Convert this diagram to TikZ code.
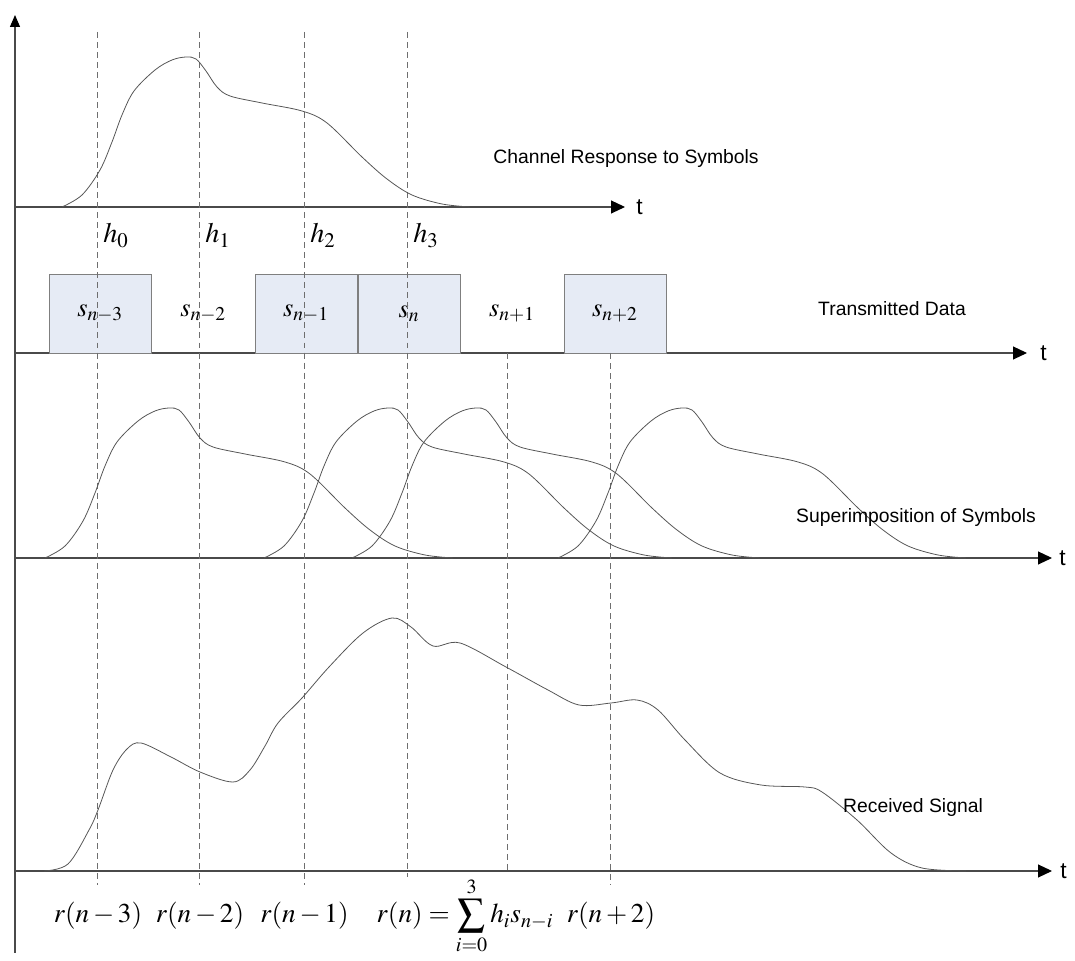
\documentclass[tikz,border=0pt]{standalone}
\usepackage{mathptmx}
\usepackage[no-math]{fontspec}
\setsansfont{Liberation Sans}
\usetikzlibrary{arrows.meta,positioning}
\definecolor{SymFill}{HTML}{E6EBF5}
\definecolor{SymEdge}{HTML}{7F7F7F}
\definecolor{Trace}{HTML}{555555}
\definecolor{Axis}{HTML}{4A4A4A}
\definecolor{Guide}{HTML}{6E6E6E}
\tikzset{
  axis/.style={draw=Axis,line width=0.6pt,-{Triangle[length=2.8mm,width=2.6mm,color=black]}},
  trace/.style={draw=Trace,line width=0.45pt},
  guide/.style={draw=Guide,line width=0.45pt,dash pattern=on 3.4pt off 2.3pt},
  slot/.style={minimum width=20.45mm,minimum height=15.8mm,inner sep=0pt,font=\fontsize{15}{18}\selectfont},
  symbox/.style={slot,draw=SymEdge,fill=SymFill},
  caption/.style={font=\sffamily\fontsize{11}{13}\selectfont,inner sep=0pt},
  tlab/.style={font=\sffamily\fontsize{13}{15}\selectfont,inner sep=0pt,anchor=west},
  hlab/.style={font=\fontsize{16}{19}\selectfont,inner sep=0pt,anchor=base west},
  rlab/.style={font=\fontsize{15.5}{18}\selectfont,inner sep=0pt,anchor=base},
  pulse/.pic={
    \draw[trace] plot[smooth,tension=0.55] coordinates {(0,0) (20,12) (38,37) (50,65) (60,92)
      (72,116) (93,137) (110,147) (124,150) (134,148) (144,136) (155,120) (168,111) (200,104)
      (240,96) (265,84) (300,50) (325,28) (350,12) (380,3) (408,0)};
  }
}

\begin{document}
\begin{tikzpicture}[x=0.2mm,y=0.2mm]
  \useasboundingbox (0,0) rectangle (1075,961);

  % axes
  \coordinate (o) at (15,8);
  \coordinate (ytop) at (15,946);
  \draw[axis,-{Triangle[length=2.4mm,width=2mm,color=black]}] (o) -- (ytop);
  \coordinate (a1) at (15,754);
  \coordinate (e1) at (625,754);
  \coordinate (a2) at (15,608);
  \coordinate (e2) at (1027,608);
  \coordinate (a3) at (15,403);
  \coordinate (e3) at (1052,403);
  \coordinate (a4) at (15,90);
  \coordinate (e4) at (1052,90);
  \draw[axis] (a1) -- (e1);
  \draw[axis] (a2) -- (e2);
  \draw[axis] (a3) -- (e3);
  \draw[axis] (a4) -- (e4);
  \node[tlab] (t1) at (636,754) {t};
  \node[tlab] (t2) at (1040,608) {t};
  \node[tlab] (t3) at (1059,403) {t};
  \node[tlab] (t4) at (1060,90) {t};

  % transmitted symbols
  \node[symbox] (snm3) at (100.2,647.5) {$s_{n-3}$};
  \node[slot,right=0pt of snm3] (snm2) {$s_{n-2}$};
  \node[symbox,right=0pt of snm2] (snm1) {$s_{n-1}$};
  \node[symbox,right=0pt of snm1] (sn) {$s_{n}$};
  \node[slot,right=0pt of sn] (snp1) {$s_{n+1}$};
  \node[symbox,right=0pt of snp1] (snp2) {$s_{n+2}$};

  % sampling instants
  \foreach \x in {97,199,304}
    \draw[guide] (\x,929) -- (\x,76);
  \draw[guide] (407,929) -- (407,84);
  \draw[guide] (507,608) -- (507,90);
  \draw[guide] (610,608) -- (610,76);

  \node[hlab] (h0) at (103,718) {$h_0$};
  \node[hlab] (h1) at (205,718) {$h_1$};
  \node[hlab] (h2) at (310,718) {$h_2$};
  \node[hlab] (h3) at (413,718) {$h_3$};

  % channel response and shifted copies
  \pic at (62,754) {pulse};
  \pic at (45,403) {pulse};
  \pic at (264,403) {pulse};
  \pic at (352,403) {pulse};
  \pic at (558,403) {pulse};

  % received signal
  \draw[trace] plot[smooth,tension=0.55] coordinates {(44,90) (68,97) (89,131) (98,151)
    (113,191) (127,212) (141,218) (171,204) (200,189) (233,179) (250,191) (265,215) (278,238)
    (302,263) (329,294) (363,328) (392,343) (411,334) (433,315) (460,318) (506,294) (548,271)
    (579,256) (611,258) (637,261) (658,251) (685,221) (720,188) (761,176) (805,174) (822,169)
    (857,141) (891,108) (922,93) (966,90)};

  \node[caption] (chan) at (626,802) {Channel Response to Symbols};
  \node[caption] (txd) at (892,652) {Transmitted Data};
  \node[caption] (sup) at (916,443) {Superimposition of Symbols};
  \node[caption] (rx) at (913,153) {Received Signal};

  \node[rlab] (r3) at (98,38) {$r(n-3)$};
  \node[rlab] (r2) at (200,38) {$r(n-2)$};
  \node[rlab] (r1) at (304.5,38) {$r(n-1)$};
  \node[rlab] (r0) at (465,38) {$r(n)=\displaystyle\sum_{i=0}^{3}h_i s_{n-i}$};
  \node[rlab] (rp2) at (611,38) {$r(n+2)$};
\end{tikzpicture}
\end{document}
